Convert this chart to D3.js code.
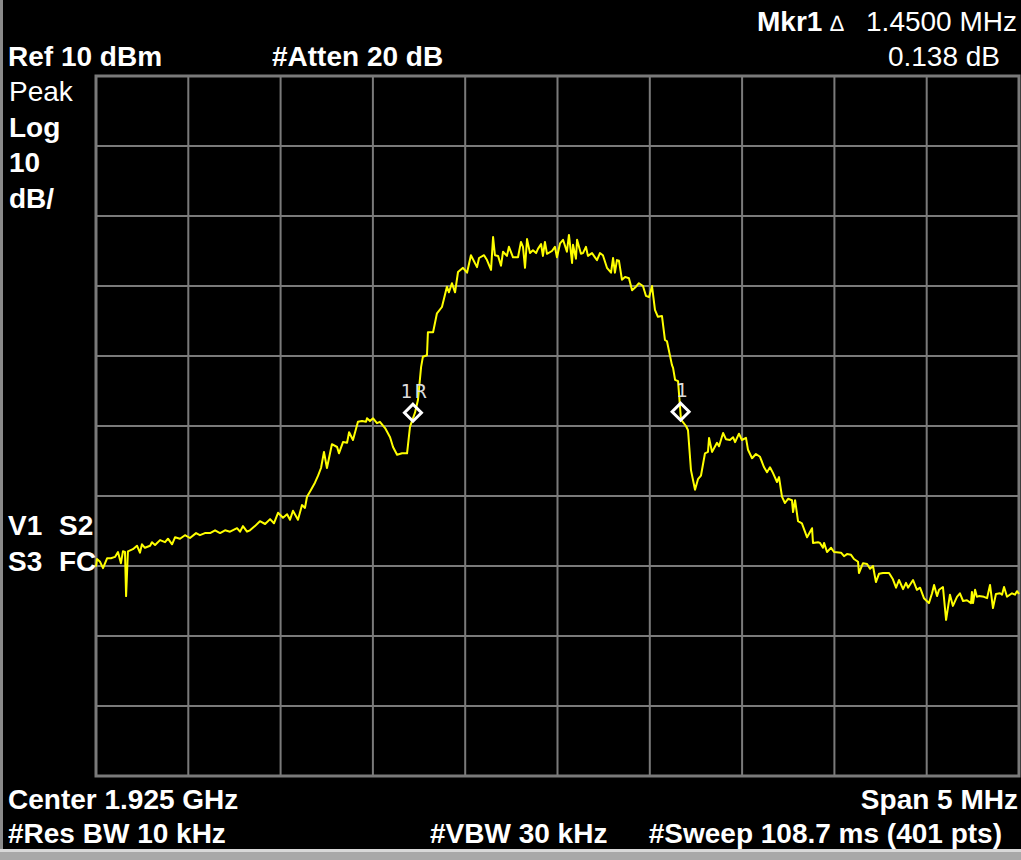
<!DOCTYPE html>
<html>
<head>
<meta charset="utf-8">
<script src="https://cdn.jsdelivr.net/npm/d3@7"></script>
<style>
  html, body { margin: 0; padding: 0; background: #000; }
  svg { display: block; }
  text { font-family: "Liberation Sans", Arial, sans-serif; fill: #fff; }
</style>
</head>
<body>
<svg id="chart" width="1021" height="860"></svg>
<script>
// ---- DATA ----
// Frequency offset from center (kHz), span 5 MHz, center 1.925 GHz
const freqOffsetKHz = [
-2500,-2495,-2478,-2462,-2440,-2419,-2397,-2381,-2365,-2354,-2343,-2337,-2327,-2300,-2278,-2262,-2251,-2235,-2207,-2197,
-2180,-2153,-2126,-2110,-2088,-2072,-2045,-2018,-1991,-1958,-1937,-1910,-1882,-1855,-1828,-1801,-1774,-1736,-1720,-1704,
-1682,-1666,-1639,-1612,-1584,-1557,-1536,-1514,-1487,-1465,-1449,-1433,-1406,-1384,-1368,-1357,-1335,-1314,-1297,-1281,
-1265,-1249,-1222,-1194,-1184,-1162,-1140,-1129,-1108,-1081,-1059,-1037,-1032,-1016,-999,-978,-962,-934,-907,-891,
-869,-842,-826,-815,-799,-772,-756,-739,-729,-707,-702,-674,-653,-626,-599,-588,-572,-555,-539,-512,
-490,-469,-436,-425,-398,-382,-360,-349,-339,-322,-306,-295,-274,-263,-241,-225,-214,-198,-187,-176,
-165,-149,-133,-116,-106,-89,-79,-68,-57,-30,-14,-3,14,30,51,62,79,84,100,106,
127,138,154,165,187,203,214,230,246,268,290,301,311,322,333,349,366,387,404,425,
441,463,479,496,512,528,544,566,582,593,620,626,637,653,669,696,707,723,745,761,
777,799,815,821,837,864,875,897,913,934,951,962,983,999,1021,1032,1054,1075,1097,1119,
1135,1151,1167,1189,1200,1216,1232,1249,1270,1276,1287,1303,1324,1352,1379,1384,1411,1422,1438,1444,
1460,1482,1498,1536,1552,1568,1590,1606,1628,1633,1655,1677,1693,1709,1725,1742,1763,1796,1817,1834,
1850,1872,1888,1899,1926,1947,1964,1985,2012,2029,2040,2056,2067,2088,2105,2126,2142,2164,2180,2197,
2218,2240,2245,2251,2262,2272,2283,2310,2327,2343,2359,2375,2397,2408,2419,2435,2462,2478,2489,2500
];
// Trace level (dBm)
const levelDBm = [
-60.1,-59.0,-59.4,-60.3,-58.9,-58.9,-58.7,-58.0,-59.6,-57.9,-58.0,-64.3,-57.9,-57.6,-57.1,-58.1,-56.9,-57.4,-57.1,-56.6,
-57.0,-56.3,-56.6,-56.1,-56.9,-55.9,-56.1,-55.6,-56.0,-55.3,-55.6,-55.3,-55.3,-54.9,-55.3,-54.9,-55.1,-54.6,-55.1,-54.3,
-55.1,-54.9,-54.3,-53.6,-54.0,-53.3,-53.9,-52.4,-53.1,-52.6,-53.4,-52.1,-53.4,-51.3,-51.7,-50.1,-49.1,-48.1,-47.1,-46.0,
-43.7,-46.0,-42.6,-43.0,-43.9,-42.3,-42.4,-40.9,-42.0,-39.4,-39.3,-39.4,-38.9,-39.3,-38.9,-39.6,-39.4,-40.3,-41.6,-43.0,
-44.1,-43.9,-43.9,-43.9,-40.1,-38.1,-36.3,-31.6,-30.1,-29.9,-26.6,-26.6,-23.9,-23.0,-20.1,-20.9,-19.6,-20.9,-18.0,-17.4,
-18.1,-15.6,-17.3,-16.0,-15.6,-16.3,-17.7,-13.0,-15.6,-15.7,-17.1,-15.1,-15.7,-14.4,-15.9,-15.9,-15.9,-13.7,-14.4,-17.4,
-13.3,-15.3,-14.9,-15.3,-14.7,-14.0,-15.7,-13.7,-15.4,-15.0,-14.4,-15.9,-13.9,-13.4,-15.1,-12.7,-16.7,-14.1,-16.1,-13.4,
-15.4,-15.3,-14.4,-15.7,-15.3,-15.9,-16.3,-15.3,-15.6,-17.4,-18.1,-16.0,-18.1,-16.3,-16.4,-19.1,-18.7,-18.9,-20.6,-20.1,
-19.6,-20.0,-21.4,-21.6,-20.0,-23.4,-24.4,-24.3,-27.7,-27.9,-31.3,-31.7,-33.4,-33.6,-39.1,-40.0,-40.6,-46.3,-49.1,-47.6,
-47.1,-43.9,-43.7,-41.7,-43.7,-42.4,-42.9,-41.0,-41.9,-42.0,-41.6,-42.3,-41.1,-42.0,-41.7,-43.4,-44.6,-44.0,-44.4,-45.9,
-46.6,-45.9,-46.7,-48.0,-47.3,-50.1,-51.0,-50.4,-50.6,-52.3,-50.6,-53.6,-53.9,-55.9,-54.6,-56.7,-56.6,-56.7,-57.4,-56.7,
-58.0,-57.4,-58.0,-58.1,-58.6,-58.3,-58.4,-59.0,-59.4,-61.0,-59.6,-59.7,-60.4,-60.0,-62.3,-61.1,-61.0,-61.0,-61.9,-63.1,
-62.0,-63.3,-62.4,-63.1,-62.0,-63.4,-63.1,-64.6,-65.3,-63.9,-62.7,-64.3,-63.4,-63.0,-67.7,-64.1,-65.7,-64.4,-63.9,-65.0,
-64.9,-65.3,-63.7,-65.3,-63.4,-64.4,-64.3,-64.4,-64.6,-62.7,-66.0,-64.0,-63.9,-64.1,-63.0,-64.4,-63.9,-64.1,-63.6,-64.0
];
// Grid ticks
const freqTicksKHz = [-2500,-2000,-1500,-1000,-500,0,500,1000,1500,2000,2500];
const levelTicksDBm = [10,0,-10,-20,-30,-40,-50,-60,-70,-80,-90];
// Markers
const markerNames = ["1R", "1"];
const markerFreqKHz = [-783, 667];   // delta 1.4500 MHz
const markerLevelDBm = [-38.1, -37.96]; // delta 0.138 dB
// Annotation texts
const topRightLine1 = ["Mkr1", "\u2206", "1.4500 MHz"];
const topRightLine2 = "0.138 dB";
const refText = "Ref 10 dBm";
const attenText = "#Atten 20 dB";
const leftLabels = ["Peak", "Log", "10", "dB/"];
const leftBold = [false, true, true, true];
const statusLabels = [["V1", "S2"], ["S3", "FC"]];
const bottomLeft1 = "Center 1.925 GHz";
const bottomRight1 = "Span 5 MHz";
const bottomLeft2 = "#Res BW 10 kHz";
const bottomMid2 = "#VBW 30 kHz";
const bottomRight2 = "#Sweep 108.7 ms (401 pts)";

// ---- DRAW ----
const svg = d3.select("#chart");
const W = 1021, H = 860;
const plot = {left: 96, right: 1019, top: 76, bottom: 776};

svg.append("rect").attr("x", 0).attr("y", 0).attr("width", W).attr("height", H).attr("fill", "#000");

// window frame pieces
svg.append("rect").attr("x", 0).attr("y", 0).attr("width", 3).attr("height", H).attr("fill", "#8a8a8a");
svg.append("rect").attr("x", 0).attr("y", 849).attr("width", W).attr("height", 3).attr("fill", "#d8d8d8");
svg.append("rect").attr("x", 0).attr("y", 852).attr("width", W).attr("height", 8).attr("fill", "#a8a8a8");

const x = d3.scaleLinear().domain([-2500, 2500]).range([plot.left, plot.right]);
const y = d3.scaleLinear().domain([-90, 10]).range([plot.bottom, plot.top]);

const grid = svg.append("g").attr("stroke", "#7a7a7a").attr("stroke-width", 2);
grid.selectAll("line.v").data(freqTicksKHz).join("line")
  .attr("x1", d => x(d)).attr("x2", d => x(d))
  .attr("y1", plot.top).attr("y2", plot.bottom);
grid.selectAll("line.h").data(levelTicksDBm).join("line")
  .attr("class", "h")
  .attr("x1", plot.left).attr("x2", plot.right)
  .attr("y1", d => y(d)).attr("y2", d => y(d));
svg.append("rect").attr("x", plot.left).attr("y", plot.top)
  .attr("width", plot.right - plot.left).attr("height", plot.bottom - plot.top)
  .attr("fill", "none").attr("stroke", "#7a7a7a").attr("stroke-width", 3);

// trace
const pts = freqOffsetKHz.map((f, i) => [f, levelDBm[i]]);
const line = d3.line().x(d => x(d[0])).y(d => y(d[1]));
svg.append("path").datum(pts).attr("d", line)
  .attr("fill", "none").attr("stroke", "#ffff00").attr("stroke-width", 2)
  .attr("stroke-linejoin", "round");

// markers
const mk = svg.append("g");
markerNames.forEach((name, i) => {
  const cx = x(markerFreqKHz[i]), cy = y(markerLevelDBm[i]);
  const s = 8.5;
  mk.append("path")
    .attr("d", `M${cx},${cy - s}L${cx + s},${cy}L${cx},${cy + s}L${cx - s},${cy}Z`)
    .attr("fill", "none").attr("stroke", "#fff").attr("stroke-width", 3);
  mk.append("text").attr("x", cx + (name.length > 1 ? 2 : 1)).attr("y", cy - 15)
    .attr("text-anchor", "middle")
    .style("font-family", "'DejaVu Sans Mono', monospace")
    .style("font-size", "19px").style("letter-spacing", name.length > 1 ? "3px" : "0px")
    .style("fill", "#dcdcdc").style("font-weight", "normal")
    .text(name);
});

// texts
function txt(t, px, py, opts = {}) {
  const el = svg.append("text").attr("x", px).attr("y", py)
    .style("font-size", (opts.size || 28) + "px")
    .style("font-weight", opts.bold ? "bold" : "normal")
    .attr("text-anchor", opts.anchor || "start")
    .text(t);
  return el;
}
txt(topRightLine1[0], 757, 31, {bold: true});
txt(topRightLine1[1], 837, 31, {size: 22, anchor: "middle"});
txt(topRightLine1[2], 1017, 31, {anchor: "end"});
txt(topRightLine2, 1000, 66, {anchor: "end"});
txt(refText, 8, 66, {bold: true});
txt(attenText, 272, 66, {bold: true});
leftLabels.forEach((t, i) => txt(t, 9, [101, 137, 172, 208][i], {bold: leftBold[i]}));
statusLabels.forEach((row, i) => {
  txt(row[0], 8, [535, 571][i], {bold: true});
  txt(row[1], 59, [535, 571][i], {bold: true});
});
txt(bottomLeft1, 8, 809, {bold: true});
txt(bottomRight1, 1018, 809, {bold: true, anchor: "end"});
txt(bottomLeft2, 8, 843, {bold: true});
txt(bottomMid2, 430, 843, {bold: true});
txt(bottomRight2, 1002, 843, {bold: true, anchor: "end"});
</script>
</body>
</html>
